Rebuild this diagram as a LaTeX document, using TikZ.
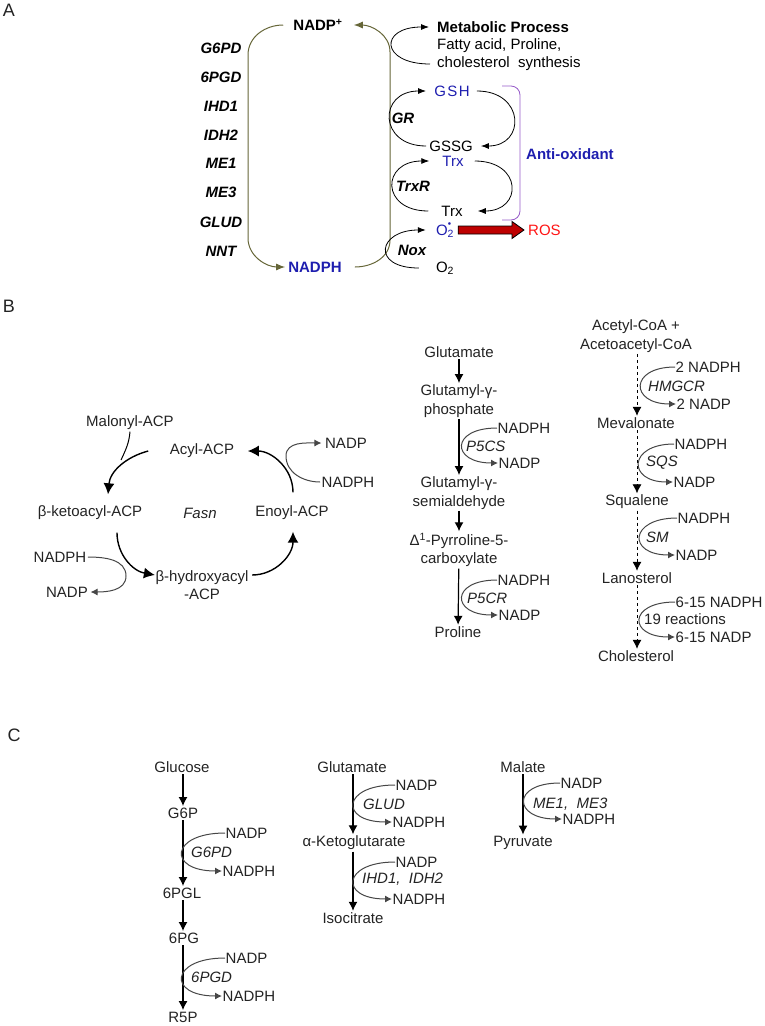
\documentclass[tikz,border=0pt]{standalone}
\usepackage{fontspec}
\setmainfont{Liberation Sans}
\usetikzlibrary{arrows.meta,calc}

\definecolor{loopolive}{RGB}{102,102,56}
\definecolor{oxblue}{RGB}{30,30,175}
\definecolor{rosdark}{RGB}{190,0,0}
\definecolor{rosred}{RGB}{255,20,20}
\definecolor{brkpurple}{RGB}{150,90,200}
\definecolor{txt}{RGB}{35,35,35}
\definecolor{cofgrey}{RGB}{70,70,70}

\tikzstyle{panel} = [inner sep=0pt, text=txt, font=\fontsize{18}{20}\selectfont]
\tikzstyle{met} = [inner sep=1.5pt, align=center, text=txt, font=\fontsize{15}{18.5}\selectfont]
\tikzstyle{enz} = [inner sep=1pt, anchor=west, text=txt, font=\fontsize{15}{18}\selectfont\itshape]
\tikzstyle{cof} = [met, anchor=west, inner sep=0.5pt]
\tikzstyle{abold} = [inner sep=1pt, font=\fontsize{15}{18}\selectfont\bfseries]
\tikzstyle{anorm} = [inner sep=1pt, font=\fontsize{15}{18}\selectfont]
\tikzstyle{agene} = [inner sep=1pt, font=\fontsize{15}{18}\selectfont\bfseries\itshape]
\tikzstyle{loopline} = [draw=loopolive, line width=1pt, -{Latex[length=9pt,width=7pt]}]
\tikzstyle{turn} = [line width=0.8pt, -{Latex[length=8pt,width=6pt]}]
\tikzstyle{reac} = [line width=1.2pt, draw=black, -{Latex[length=9pt,width=9pt]}]
\tikzstyle{cycle} = [line width=1.4pt, draw=black, -{Latex[length=11pt,width=11pt]}]
\tikzstyle{cofarr} = [line width=1pt, draw=cofgrey, -{Latex[length=7pt,width=7pt]}]

\begin{document}
\begin{tikzpicture}[x=1pt, y=-1pt]
	\useasboundingbox (0,0) rectangle (764,1026);

	% ---------------- A ----------------
	\node[panel] (labA) at (9,10) {A};
	\node[abold] (nadpp) at (318,25) {NADP\textsuperscript{+}};
	\node[abold, text=oxblue] (nadph) at (315,267) {NADPH};

	\node[agene] (g1) at (221,48) {G6PD};
	\node[agene] (g2) at (221,77) {6PGD};
	\node[agene] (g3) at (221,106) {IHD1};
	\node[agene] (g4) at (221,135) {IDH2};
	\node[agene] (g5) at (221,163) {ME1};
	\node[agene] (g6) at (221,192) {ME3};
	\node[agene] (g7) at (221,222) {GLUD};
	\node[agene] (g8) at (221,251) {NNT};

	\draw[loopline] ([xshift=-9pt]nadpp.west) to[out=180,in=90] (248,55)
	    -- (248,238) to[out=-90,in=180] ([xshift=-2pt]nadph.west);
	\draw[loopline] ([xshift=12pt]nadph.east) to[out=0,in=-90] (390,240)
	    -- (390,52) to[out=90,in=0] ([xshift=10pt]nadpp.east);

	\node[abold, anchor=west] (metab) at (436,27) {Metabolic Process};
	\node[anorm, anchor=west] (fatty) at (436,46) {Fatty acid, Proline,};
	\node[anorm, anchor=west] (cholsyn) at (436,64) {cholesterol\ \ synthesis};
	\draw[turn] ([xshift=-6pt]cholsyn.west) .. controls +(-50,0) and +(-50,0) .. ([xshift=-7pt]metab.west);

	\node[anorm, text=oxblue] (gsh) at (452,91) {G\kern1.5pt S\kern1.5pt H};
	\node[anorm] (gssg) at (451,146) {GSSG};
	\node[anorm, text=oxblue] (trxa) at (453,161) {Trx};
	\node[anorm] (trxb) at (452,211) {Trx};
	\node[anorm, text=oxblue] (o2r) at (445,230) {O\rlap{\raisebox{1.25ex}{\fontsize{6}{6}\selectfont$\bullet$}}\textsubscript{2}};
	\node[anorm] (o2) at (445,268) {O\textsubscript{2}};
	\node[anorm, anchor=west, text=rosred] (ros) at (527,230) {ROS};
	\node[abold, anchor=west, text=oxblue] (antiox) at (525,154) {Anti-oxidant};

	\draw[turn] ([xshift=-2pt]gssg.west) .. controls +(-48,0) and +(-48,0) .. ([xshift=-7pt]gsh.west);
	\draw[turn] ([xshift=6pt]gsh.east) .. controls +(48,0) and +(45,0) .. ([xshift=7pt]gssg.east);
	\draw[turn] ([xshift=-12pt]trxb.west) .. controls +(-48,0) and +(-48,0) .. ([xshift=-12pt]trxa.west);
	\draw[turn] ([xshift=10pt]trxa.east) .. controls +(48,0) and +(45,0) .. ([xshift=14pt]trxb.east);
	\draw[turn] ([xshift=-16pt]o2.west) .. controls +(-48,0) and +(-48,0) .. ([xshift=-9pt]o2r.west);

	\node[agene] (gr) at (403,118) {GR};
	\node[agene] (trxr) at (413,186) {TrxR};
	\node[agene] (nox) at (412,250) {Nox};

	\draw[brkpurple, line width=0.8pt, rounded corners=9pt] (502,86) -- (520,86) -- (520,220) -- (502,220);

	\draw[fill=rosdark, line width=0.8pt] let \p1=(o2r.east), \p2=(ros.west) in
	    (\x1+3pt,\y1+4pt) -- (\x2-15pt,\y1+4pt) -- (\x2-15pt,\y1+8.5pt) -- (\x2-3pt,\y1)
	    -- (\x2-15pt,\y1-8.5pt) -- (\x2-15pt,\y1-4pt) -- (\x1+3pt,\y1-4pt) -- cycle;

	% ---------------- B ----------------
	\node[panel] (labB) at (9,306) {B};

	% fatty acid cycle
	\node[met] (malonyl) at (130,423) {Malonyl-ACP};
	\node[met] (acyl) at (202,451) {Acyl-ACP};
	\node[met] (nadpF1) at (346,443) {NADP};
	\node[met] (nadphF1) at (348,482) {NADPH};
	\node[met] (ketoacyl) at (90,513) {β-ketoacyl-ACP};
	\node[enz, anchor=center] (fasn) at (200,513) {Fasn};
	\node[met] (enoyl) at (292,513) {Enoyl-ACP};
	\node[met] (nadphF2) at (60,557) {NADPH};
	\node[met] (hydroxy) at (202,585) {β-hydroxyacyl\\-ACP};
	\node[met] (nadpF2) at (67,592) {NADP};

	\draw[cycle] ([xshift=-20pt]acyl.west) to[out=195,in=85] ([xshift=18pt,yshift=10pt]ketoacyl.north);
	\draw[line width=1pt] (malonyl.south) to[out=-95,in=65] (121,460);
	\draw[cycle] ([xshift=27pt,yshift=-11pt]ketoacyl.south) to[out=-90,in=170] ([xshift=1pt,yshift=10pt]hydroxy.west);
	\draw[cofarr, line width=1pt] (nadphF2.east) to[out=0,in=90] (126,576) to[out=-90,in=0] ([xshift=1pt]nadpF2.east);
	\draw[cycle] ([xshift=2pt,yshift=10pt]hydroxy.east) to[out=0,in=-90] ([xshift=1pt,yshift=-10pt]enoyl.south);
	\draw[cycle] ([xshift=1pt,yshift=12pt]enoyl.north) to[out=90,in=0] ([xshift=12pt]acyl.east);
	\draw[cofarr, line width=1pt] (nadphF1.west) to[out=180,in=-90] (286,456) to[out=90,in=180] ([xshift=-2pt]nadpF1.west);

	% proline
	\node[met] (gluP) at (459,352) {Glutamate};
	\node[met] (glp) at (459,401) {Glutamyl-γ-\\phosphate};
	\node[met] (gsa) at (459,493) {Glutamyl-γ-\\semialdehyde};
	\node[met] (p5c) at (459,550) {Δ\textsuperscript{1}-Pyrroline-5-\\carboxylate};
	\node[met] (pro) at (458,632) {Proline};
	\draw[reac] (gluP) -- (glp);
	\draw[reac] (glp) -- (gsa);
	\draw[reac] (gsa) -- (p5c);
	\draw[reac] (p5c) -- (pro);

	\node[cof] (nadphP1) at (497,428) {NADPH};
	\node[cof] (nadpP1) at (498,463) {NADP};
	\node[enz] (p5cs) at (465,446) {P5CS};
	\draw[cofarr] (nadphP1.west) .. controls +(-47,0) and +(-47,0) .. (nadpP1.west);
	\node[cof] (nadphP2) at (497,580) {NADPH};
	\node[cof] (nadpP2) at (498,615) {NADP};
	\node[enz] (p5cr) at (466,598) {P5CR};
	\draw[cofarr] (nadphP2.west) .. controls +(-47,0) and +(-47,0) .. (nadpP2.west);

	% cholesterol
	\node[met] (acoa) at (636,336) {Acetyl-CoA +\\Acetoacetyl-CoA};
	\node[met] (meva) at (636,423) {Mevalonate};
	\node[met] (squa) at (637,502) {Squalene};
	\node[met] (lano) at (637,578) {Lanosterol};
	\node[met] (chol) at (636,656) {Cholesterol};
	\draw[reac, line width=0.8pt, dashed] (acoa.south -| lano) -- (meva.north -| lano);
	\draw[reac, line width=0.8pt, dashed] (meva.south -| lano) -- (squa.north -| lano);
	\draw[reac, line width=0.8pt, dashed] (squa) -- (lano);
	\draw[reac, line width=0.8pt, dashed] (lano.south) -- (chol.north -| lano);

	\node[cof] (nadphC1) at (675,367) {2 NADPH};
	\node[cof] (nadpC1) at (676,404) {2 NADP};
	\node[enz] (hmgcr) at (647,386) {HMGCR};
	\draw[cofarr] (nadphC1.west) .. controls +(-46,0) and +(-46,0) .. (nadpC1.west);
	\node[cof] (nadphC2) at (674,444) {NADPH};
	\node[cof] (nadpC2) at (673,482) {NADP};
	\node[enz] (sqs) at (645,463) {SQS};
	\draw[cofarr] (nadphC2.west) .. controls +(-46,0) and +(-46,0) .. (nadpC2.west);
	\node[cof] (nadphC3) at (677,518) {NADPH};
	\node[cof] (nadpC3) at (675,555) {NADP};
	\node[enz] (sm) at (645,537) {SM};
	\draw[cofarr] (nadphC3.west) .. controls +(-48,0) and +(-48,0) .. (nadpC3.west);
	\node[cof] (nadphC4) at (675,602) {6-15 NADPH};
	\node[cof] (nadpC4) at (675,637) {6-15 NADP};
	\node[met, anchor=west, inner sep=1pt] (rxn) at (643,619) {19 reactions};
	\draw[cofarr] (nadphC4.west) .. controls +(-47,0) and +(-47,0) .. (nadpC4.west);

	% ---------------- C ----------------
	\node[panel] (labC) at (14,735) {C};

	\node[met] (gluc) at (182,767) {Glucose};
	\node[met] (g6p) at (183,813) {G6P};
	\node[met] (pgl) at (182,893) {6PGL};
	\node[met] (pg) at (184,938) {6PG};
	\node[met] (r5p) at (183,1017) {R5P};
	\draw[reac] (gluc.south -| g6p) -- (g6p.north);
	\draw[reac] (g6p.south) -- (pgl.north -| g6p);
	\draw[reac] (pgl.south -| g6p) -- (pg.north -| g6p);
	\draw[reac] (pg.south -| g6p) -- (r5p.north);

	\node[cof] (nadpG1) at (225,833) {NADP};
	\node[cof] (nadphG1) at (222,871) {NADPH};
	\node[enz] (g6pd) at (190,852) {G6PD};
	\draw[cofarr] (nadpG1.west) .. controls +(-55,0) and +(-55,0) .. (nadphG1.west);
	\node[cof] (nadpG2) at (225,958) {NADP};
	\node[cof] (nadphG2) at (222,996) {NADPH};
	\node[enz] (pgd) at (190,977) {6PGD};
	\draw[cofarr] (nadpG2.west) .. controls +(-55,0) and +(-55,0) .. (nadphG2.west);

	\node[met] (gluC) at (352,767) {Glutamate};
	\node[met] (akg) at (354,843) {α-Ketoglutarate};
	\node[met] (iso) at (353,918) {Isocitrate};
	\draw[reac] (gluC.south -| iso) -- (akg.north -| iso);
	\draw[reac] (akg.south -| iso) -- (iso.north);

	\node[cof] (nadpK1) at (395,785) {NADP};
	\node[cof] (nadphK1) at (392,822) {NADPH};
	\node[enz] (glud) at (362,804) {GLUD};
	\draw[cofarr] (nadpK1.west) .. controls +(-53,0) and +(-53,0) .. (nadphK1.west);
	\node[cof] (nadpK2) at (395,862) {NADP};
	\node[cof] (nadphK2) at (392,899) {NADPH};
	\node[enz] (idh) at (361,879) {IHD1,\ \ IDH2};
	\draw[cofarr] (nadpK2.west) .. controls +(-53,0) and +(-53,0) .. (nadphK2.west);

	\node[met] (mal) at (523,767) {Malate};
	\node[met] (pyr) at (523,843) {Pyruvate};
	\draw[reac] (mal) -- (pyr);
	\node[cof] (nadpM) at (560,783) {NADP};
	\node[cof] (nadphM) at (562,819) {NADPH};
	\node[enz] (me) at (532,804) {ME1,\ \ ME3};
	\draw[cofarr] (nadpM.west) .. controls +(-49,0) and +(-49,0) .. (nadphM.west);
\end{tikzpicture}
\end{document}
